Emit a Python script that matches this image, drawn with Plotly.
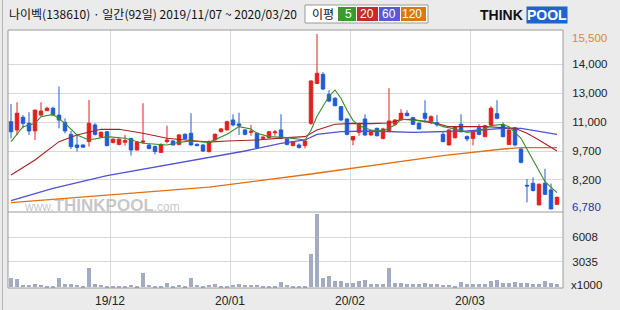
import plotly.graph_objects as go

# ---------------- data ----------------
tick_month_pos = [16.5, 36.5, 56.5, 76.5]
tick_month_txt = ["19/12", "20/01", "20/02", "20/03"]

opens = [11130,10720,11350,11050,10670,11460,11680,11800,11460,11100,
         10500,9970,9970,10140,10970,10390,10630,10090,10000,10110,
         10300,9720,10110,9970,9890,9600,10140,10170,10000,10500,
         10550,10000,9970,9640,10220,10630,10720,11215,11020,10720,
         10600,10550,10300,10340,10580,10720,10270,9940,9970,9940,
         11050,13040,13490,12490,12300,11880,11265,10220,10600,11265,
         10470,10800,10300,10670,11000,11215,11550,11330,11050,11550,
         11130,11080,10500,9970,10330,11000,10390,10300,10830,10390,
         10970,11530,10970,10000,10830,9770,7960,8060,6980,8060,
         7730,7010]
highs = [12010,12100,11460,11600,11710,12100,11880,11880,12880,11300,
         10670,10470,10000,12210,11050,10650,10650,10300,10300,10470,
         10300,10150,12050,10000,9950,10050,10930,10200,10520,10550,
         11550,10050,10000,10200,10550,10820,11180,11500,11580,10750,
         10966,10600,10400,10650,10720,11500,10300,10170,10050,10200,
         13200,15500,13600,12700,12350,11900,11300,10420,11050,11500,
         10720,10830,10830,12800,11250,11750,11700,11380,11100,12200,
         11450,11465,10650,10750,10900,11500,10450,10680,11000,10970,
         11900,12200,11100,10750,10850,9800,8275,8350,8060,8780,
         8050,7400]
lows = [10300,10470,10800,10470,10220,11400,11660,11420,10800,10550,
        9770,9640,9850,9890,10440,10350,9900,10050,9950,9940,
        9440,9700,10050,9750,9500,9580,10050,9950,9950,10250,
        9950,9900,9620,9600,10170,10600,10700,10900,10470,10450,
        10430,9800,10280,10300,10430,10270,9950,9900,9800,9800,
        10970,13000,12700,12100,11900,11150,10450,9950,10430,10430,
        10430,10400,10250,10600,10950,11200,11400,10970,10750,11100,
        11000,10880,10100,9950,10300,10600,10150,9950,10450,10350,
        10950,11250,10350,9970,9900,9050,7110,7650,6970,7480,
        6780,6990]
closes = [10630,11550,11050,10670,11710,11660,11800,11460,11215,10670,
          9890,9850,9860,11050,10500,10600,9940,10260,10260,10190,
          9720,10100,10160,9800,9640,10000,10220,9970,10470,10270,
          9970,9940,9670,10140,10500,10770,11130,10970,10930,10500,
          10650,9840,10360,10630,10620,10300,10000,10140,9840,10170,
          13160,13540,12760,12160,11930,11215,10500,10390,11000,10470,
          10670,10430,10770,11165,11215,11550,11430,11000,10770,11300,
          11380,10970,10140,10720,10880,10630,10270,10634,10500,10930,
          11800,11300,10385,10720,9970,9105,7930,7700,8010,7510,
          6780,7360]
volumes = [1080,1000,280,280,400,280,200,200,1080,400,
           400,280,200,2360,400,280,200,200,200,200,
           280,200,1720,280,200,200,480,200,280,200,
           1080,280,200,280,400,200,200,280,400,280,
           280,280,200,200,200,600,280,200,200,200,
           4040,8760,1080,1320,760,760,520,520,760,840,
           400,400,400,2360,480,520,400,400,400,520,
           400,400,280,280,200,680,400,400,400,400,
           760,840,520,520,680,520,520,400,400,760,
           520,400]

ma5_idx = [0,2,4,5,7,9,11,13,16,19,22,26,28,30,33,36,38,40,41,43,46,49,50,51,52,53,54,55,56,57,58,60,62,64,65,67,70,72,74,76,78,80,82,83,85,87,89,91]
ma5_val = [10136,10883,11049,11381,11497,11049,10468,10219,10385,10302,10053,9969,10102,10169,10100,10501,10883,10767,10551,10385,10335,10219,10700,11400,11900,12400,12710,12300,11700,11200,10933,10717,10667,10966,11250,11215,11132,10883,10767,10601,10667,10933,11000,10883,10302,9222,8142,7600]
ma20_idx = [0,4,8,11,15,18,22,26,29,33,36,41,46,49,51,54,57,60,63,65,67,68,71,73,79,84,86,88,91]
ma20_val = [8475,9222,10136,10468,10750,10750,10551,10302,10219,10110,10169,10219,10335,10385,10717,11000,11049,11033,11066,11240,11250,11182,11033,10883,10883,10800,10551,10219,9670]
ma60_idx = [0,7,16,33,39,45,49,51,55,60,67,76,82,85,91]
ma60_val = [7196,7810,8440,9338,9670,10053,10219,10501,10634,10667,10601,10667,10800,10800,10501]
ma120_idx = [0,16,33,50,67,72,82,85,91]
ma120_val = [7100,7460,7870,8524,9239,9438,9770,9836,9836]

price_tick_vals = [14005, 12560, 11115, 9670, 8225]
price_tick_txt = ["14,000", "13,000", "11,000", "9,700", "8,200"]
vol_tick_vals = [3035, 6008]
vol_tick_txt = ["3035", "6008"]
price_high, price_low = 15500, 6780
legend_labels = ["5", "20", "60", "120"]

# ---------------- styles ----------------
RED = "#e2201f"
BLUE = "#1f5cd6"
GRID = "#d9d9d9"
legend_cols = ["#3c9a2c", "#c62a2a", "#5a5ad6", "#dd7711"]
legend_px = [(338, 356), (357, 378), (379, 400), (401, 426)]
x_idx = list(range(len(closes)))

fig = go.Figure()
fig.add_trace(go.Candlestick(
    x=x_idx, open=opens, high=highs, low=lows, close=closes,
    increasing=dict(line=dict(color=RED, width=1), fillcolor=RED),
    decreasing=dict(line=dict(color=BLUE, width=1), fillcolor=BLUE),
    whiskerwidth=0, xaxis="x", yaxis="y", showlegend=False, hoverinfo="skip"))
fig.add_trace(go.Scatter(x=ma120_idx, y=ma120_val, mode="lines",
                         line=dict(color="#e07010", width=1.3), xaxis="x", yaxis="y", showlegend=False))
fig.add_trace(go.Scatter(x=ma60_idx, y=ma60_val, mode="lines",
                         line=dict(color="#5050d8", width=1.3), xaxis="x", yaxis="y", showlegend=False))
fig.add_trace(go.Scatter(x=ma20_idx, y=ma20_val, mode="lines",
                         line=dict(color="#a82222", width=1.1), xaxis="x", yaxis="y", showlegend=False))
fig.add_trace(go.Scatter(x=ma5_idx, y=ma5_val, mode="lines",
                         line=dict(color="#3a8a2a", width=1.1), xaxis="x", yaxis="y", showlegend=False))
fig.add_trace(go.Bar(x=x_idx, y=volumes, width=0.7, marker=dict(color="#a3abc3", line=dict(width=0)),
                     xaxis="x2", yaxis="y2", showlegend=False, hoverinfo="skip"))

W, H = 620, 310
L, R, T, B = 8, 57, 30, 22
pw = W - L - R
ph = H - T - B  # 258
split = (288 - 212) / ph

axis_font = dict(family="Liberation Sans, Arial", size=11.5, color="#222")
fig.update_layout(
    template="none",
    width=W, height=H, margin=dict(l=L, r=R, t=T, b=B, pad=0),
    paper_bgcolor="#ebebeb", plot_bgcolor="#ffffff",
    boxgap=0.17, bargap=0, showlegend=False,
    xaxis=dict(domain=[0, 1], range=[-0.5, 92], anchor="y", showticklabels=False, automargin=False,
               tickvals=tick_month_pos, showgrid=True, gridcolor=GRID, gridwidth=1, ticks="",
               showline=False, zeroline=False, rangeslider=dict(visible=False)),
    yaxis=dict(domain=[split, 1], range=[6630, 15700], side="right", anchor="x", automargin=False,
               tickvals=price_tick_vals, ticktext=price_tick_txt, showgrid=True, gridcolor=GRID,
               ticks="outside", ticklen=6, tickcolor="rgba(0,0,0,0)", tickfont=axis_font,
               showline=False, zeroline=False),
    xaxis2=dict(domain=[0, 1], range=[-0.5, 92], anchor="y2", matches="x", automargin=False,
                tickvals=tick_month_pos, ticktext=tick_month_txt, showgrid=True, gridcolor=GRID,
                ticks="outside", ticklen=2, tickcolor="rgba(0,0,0,0)",
                tickfont=dict(family="Liberation Sans, Arial", size=12, color="#222"),
                showline=False, zeroline=False),
    yaxis2=dict(domain=[0, split], range=[-100, 9060], side="right", anchor="x2", automargin=False,
                tickvals=vol_tick_vals, ticktext=vol_tick_txt, showgrid=True, gridcolor=GRID,
                ticks="outside", ticklen=6, tickcolor="rgba(0,0,0,0)", tickfont=axis_font,
                showline=False, zeroline=False),
)

def px_x(x):
    return (x - L) / pw

def px_y(y):
    return (H - B - y) / ph

shapes = [
    dict(type="rect", xref="paper", yref="paper", x0=0, x1=1, y0=0, y1=1,
         line=dict(color="#9a9a9a", width=1), layer="above"),
    dict(type="line", xref="paper", yref="paper", x0=0, x1=1, y0=split, y1=split,
         line=dict(color="#9a9a9a", width=1), layer="above"),
    dict(type="line", xref="paper", yref="paper", x0=px_x(2.5), x1=px_x(2.5), y0=px_y(310), y1=px_y(0),
         line=dict(color="#b5b5b5", width=1)),
    dict(type="rect", xref="paper", yref="paper", x0=px_x(305), x1=px_x(428), y0=px_y(23), y1=px_y(5),
         fillcolor="white", line=dict(color="#999", width=1)),
]
for (x0, x1), col in zip(legend_px, legend_cols):
    shapes.append(dict(type="rect", xref="paper", yref="paper", x0=px_x(x0), x1=px_x(x1),
                       y0=px_y(21), y1=px_y(7), fillcolor=col, line=dict(width=0)))
fig.update_layout(shapes=shapes)

ann = []
ann.append(dict(text="나이벡(138610) · 일간(92일) 2019/11/07 ~ 2020/03/20", x=px_x(7), y=px_y(14),
                xref="paper", yref="paper", xanchor="left", yanchor="middle", showarrow=False,
                font=dict(family="Noto Sans CJK KR", size=12, color="#111")))
ann.append(dict(text="이평", x=px_x(323), y=px_y(14), xref="paper", yref="paper",
                xanchor="center", yanchor="middle", showarrow=False,
                font=dict(family="Noto Sans CJK KR", size=12, color="#111")))
for lbl, (x0, x1) in zip(legend_labels, legend_px):
    ann.append(dict(text=lbl, x=px_x(x1 - 2), y=px_y(14), xref="paper", yref="paper",
                    xanchor="right", yanchor="middle", showarrow=False,
                    font=dict(family="Liberation Sans, Arial", size=12, color="white")))
ann.append(dict(text="<b>THINK</b>", x=px_x(525), y=px_y(15), xref="paper", yref="paper",
                xanchor="right", yanchor="middle", showarrow=False,
                font=dict(family="Liberation Sans, Arial", size=14, color="#111")))
ann.append(dict(text="<b>POOL</b>", x=px_x(526), y=px_y(15), xref="paper", yref="paper",
                xanchor="left", yanchor="middle", showarrow=False, bgcolor="#1e63d0", borderpad=0,
                font=dict(family="Liberation Sans, Arial", size=14, color="white")))
ann.append(dict(text="www.<b><span style='font-size:17px'>THINKPOOL</span></b>.com",
                x=px_x(22), y=px_y(205), xref="paper", yref="paper", xanchor="left", yanchor="middle",
                showarrow=False, font=dict(family="Liberation Sans, Arial", size=12, color="rgba(150,150,150,0.55)")))
ann.append(dict(text="15,500", x=1, xshift=7, y=price_high, yshift=-4, xref="paper", yref="y",
                xanchor="left", yanchor="middle", showarrow=False,
                font=dict(family="Liberation Sans, Arial", size=11.5, color="#d98a2a")))
ann.append(dict(text="6,780", x=1, xshift=7, y=price_low, yshift=2, xref="paper", yref="y",
                xanchor="left", yanchor="middle", showarrow=False,
                font=dict(family="Liberation Sans, Arial", size=11.5, color="#2233aa")))
ann.append(dict(text="x1000", x=1, xshift=6, y=px_y(285), xref="paper", yref="paper",
                xanchor="left", yanchor="middle", showarrow=False, font=axis_font))
fig.update_layout(annotations=ann)

fig.write_html("out.html")
